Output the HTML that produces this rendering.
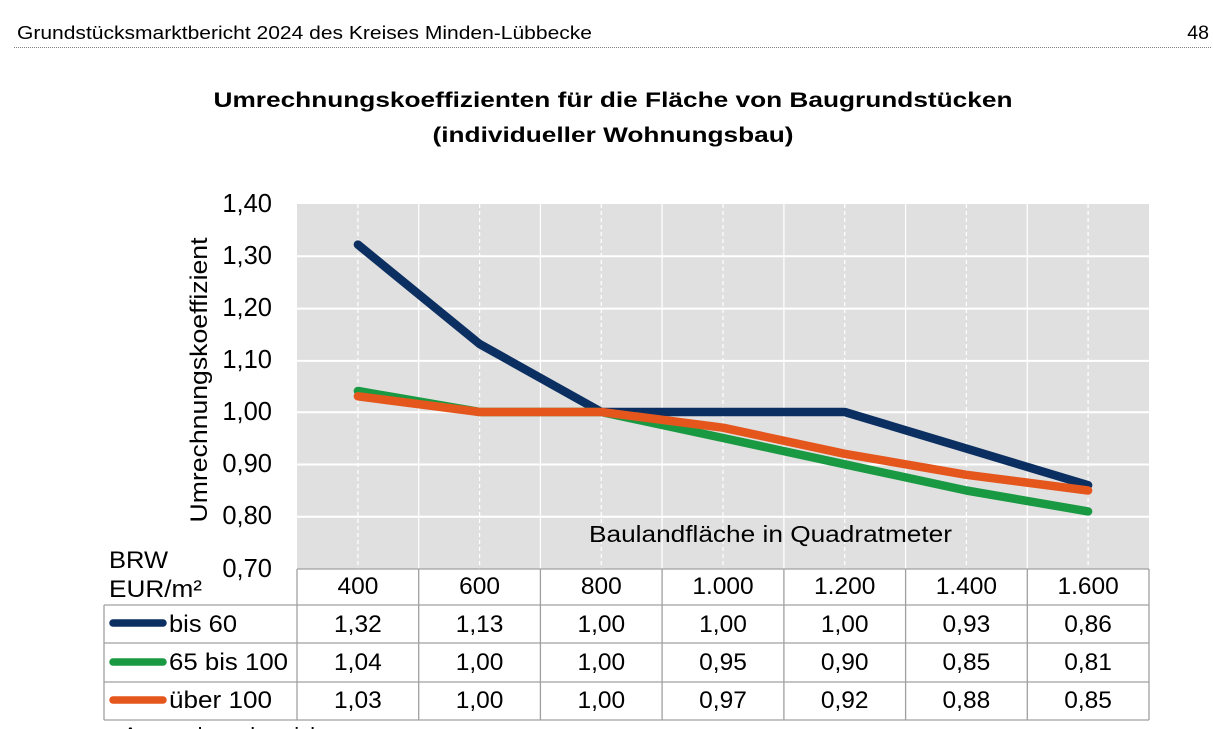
<!DOCTYPE html>
<html><head><meta charset="utf-8"><style>
html,body{margin:0;padding:0;background:#fff;}
svg{display:block;font-family:"Liberation Sans",Arial,sans-serif;}
</style></head><body>
<svg width="1213" height="729" viewBox="0 0 1213 729" xmlns="http://www.w3.org/2000/svg">
<!-- header -->
<text x="17" y="39" font-size="18.5" fill="#000" textLength="575" lengthAdjust="spacingAndGlyphs">Grundstücksmarktbericht 2024 des Kreises Minden-Lübbecke</text>
<text x="1209" y="39" font-size="19.5" fill="#000" text-anchor="end">48</text>
<line x1="14" y1="47.5" x2="1211" y2="47.5" stroke="#808080" stroke-width="1" stroke-dasharray="1,1"/>
<!-- title -->
<text x="613" y="107" font-size="21.5" font-weight="bold" text-anchor="middle" textLength="799" lengthAdjust="spacingAndGlyphs">Umrechnungskoeffizienten für die Fläche von Baugrundstücken</text>
<text x="613" y="142" font-size="21.5" font-weight="bold" text-anchor="middle" textLength="361" lengthAdjust="spacingAndGlyphs">(individueller Wohnungsbau)</text>
<!-- plot area -->
<rect x="297" y="204" width="852" height="365" fill="#e0e0e0"/>
<g stroke="#fff" stroke-width="2">
<line x1="297" y1="256.3" x2="1149" y2="256.3"/>
<line x1="297" y1="308.6" x2="1149" y2="308.6"/>
<line x1="297" y1="360.9" x2="1149" y2="360.9"/>
<line x1="297" y1="412.2" x2="1149" y2="412.2"/>
<line x1="297" y1="464.5" x2="1149" y2="464.5"/>
<line x1="297" y1="516.8" x2="1149" y2="516.8"/>
</g>
<g stroke="#fff" stroke-width="1.2">
<line x1="418.7" y1="204" x2="418.7" y2="569"/>
<line x1="540.4" y1="204" x2="540.4" y2="569"/>
<line x1="662.1" y1="204" x2="662.1" y2="569"/>
<line x1="783.9" y1="204" x2="783.9" y2="569"/>
<line x1="905.6" y1="204" x2="905.6" y2="569"/>
<line x1="1027.3" y1="204" x2="1027.3" y2="569"/>
</g>
<g stroke="#fff" stroke-width="1.2" stroke-dasharray="4,3">
<line x1="357.9" y1="204" x2="357.9" y2="569"/>
<line x1="479.6" y1="204" x2="479.6" y2="569"/>
<line x1="601.3" y1="204" x2="601.3" y2="569"/>
<line x1="723" y1="204" x2="723" y2="569"/>
<line x1="844.7" y1="204" x2="844.7" y2="569"/>
<line x1="966.4" y1="204" x2="966.4" y2="569"/>
<line x1="1088.1" y1="204" x2="1088.1" y2="569"/>
</g>
<!-- y labels -->
<g font-size="25.5" text-anchor="end" fill="#000">
<text x="272" y="212">1,40</text>
<text x="272" y="264">1,30</text>
<text x="272" y="316">1,20</text>
<text x="272" y="368">1,10</text>
<text x="272" y="420">1,00</text>
<text x="272" y="472">0,90</text>
<text x="272" y="524">0,80</text>
<text x="272" y="577">0,70</text>
</g>
<text transform="translate(207,380) rotate(-90)" font-size="24" text-anchor="middle" textLength="285" lengthAdjust="spacingAndGlyphs">Umrechnungskoeffizient</text>
<text x="589" y="542" font-size="23.5" textLength="363" lengthAdjust="spacingAndGlyphs">Baulandfläche in Quadratmeter</text>
<!-- series -->
<g fill="none" stroke-width="8.5" stroke-linecap="round" stroke-linejoin="round">
<polyline stroke="#0c2f61" points="357.9,244.6 479.6,344 601.3,412 723,412 844.7,412 966.4,448.6 1088.1,485.2"/>
<polyline stroke="#1a9943" points="357.9,391 479.6,412 601.3,412 723,438 844.7,464.3 966.4,490.5 1088.1,511.4"/>
<polyline stroke="#e5561d" points="357.9,396.3 479.6,412 601.3,412 723,427.7 844.7,453.8 966.4,474.8 1088.1,490.5"/>
</g>
<!-- table -->
<g stroke="#a0a0a0" stroke-width="1.3">
<line x1="297" y1="569" x2="1149" y2="569"/>
<line x1="104" y1="605" x2="1149" y2="605"/>
<line x1="104" y1="643" x2="1149" y2="643"/>
<line x1="104" y1="682" x2="1149" y2="682"/>
<line x1="104" y1="720" x2="1149" y2="720"/>
<line x1="104" y1="605" x2="104" y2="720"/>
<line x1="297" y1="569" x2="297" y2="720"/>
<line x1="418.7" y1="569" x2="418.7" y2="720"/>
<line x1="540.4" y1="569" x2="540.4" y2="720"/>
<line x1="662.1" y1="569" x2="662.1" y2="720"/>
<line x1="783.9" y1="569" x2="783.9" y2="720"/>
<line x1="905.6" y1="569" x2="905.6" y2="720"/>
<line x1="1027.3" y1="569" x2="1027.3" y2="720"/>
<line x1="1149" y1="569" x2="1149" y2="720"/>
</g>
<g font-size="24.5" fill="#000">
<text x="109" y="568" textLength="59" lengthAdjust="spacingAndGlyphs">BRW</text>
<text x="109" y="597" textLength="93" lengthAdjust="spacingAndGlyphs">EUR/m²</text>
<text x="169" y="632" textLength="68" lengthAdjust="spacingAndGlyphs">bis 60</text>
<text x="169" y="670" textLength="119" lengthAdjust="spacingAndGlyphs">65 bis 100</text>
<text x="169" y="708" textLength="103" lengthAdjust="spacingAndGlyphs">über 100</text>
</g>
<g stroke-width="7.5" stroke-linecap="round">
<line x1="113" y1="623" x2="163" y2="623" stroke="#0c2f61"/>
<line x1="113" y1="662" x2="163" y2="662" stroke="#1a9943"/>
<line x1="113" y1="700" x2="163" y2="700" stroke="#e5561d"/>
</g>
<g font-size="24.5" fill="#000" text-anchor="middle">
<text x="357.9" y="594">400</text>
<text x="479.6" y="594">600</text>
<text x="601.3" y="594">800</text>
<text x="723" y="594">1.000</text>
<text x="844.7" y="594">1.200</text>
<text x="966.4" y="594">1.400</text>
<text x="1088.1" y="594">1.600</text>

<text x="357.9" y="632">1,32</text>
<text x="479.6" y="632">1,13</text>
<text x="601.3" y="632">1,00</text>
<text x="723" y="632">1,00</text>
<text x="844.7" y="632">1,00</text>
<text x="966.4" y="632">0,93</text>
<text x="1088.1" y="632">0,86</text>

<text x="357.9" y="670">1,04</text>
<text x="479.6" y="670">1,00</text>
<text x="601.3" y="670">1,00</text>
<text x="723" y="670">0,95</text>
<text x="844.7" y="670">0,90</text>
<text x="966.4" y="670">0,85</text>
<text x="1088.1" y="670">0,81</text>

<text x="357.9" y="708">1,03</text>
<text x="479.6" y="708">1,00</text>
<text x="601.3" y="708">1,00</text>
<text x="723" y="708">0,97</text>
<text x="844.7" y="708">0,92</text>
<text x="966.4" y="708">0,88</text>
<text x="1088.1" y="708">0,85</text>
</g>
<!-- cut-off footer text -->
<text x="123" y="743" font-size="22" fill="#000">Anwendungsbereich</text>
</svg>
</body></html>
